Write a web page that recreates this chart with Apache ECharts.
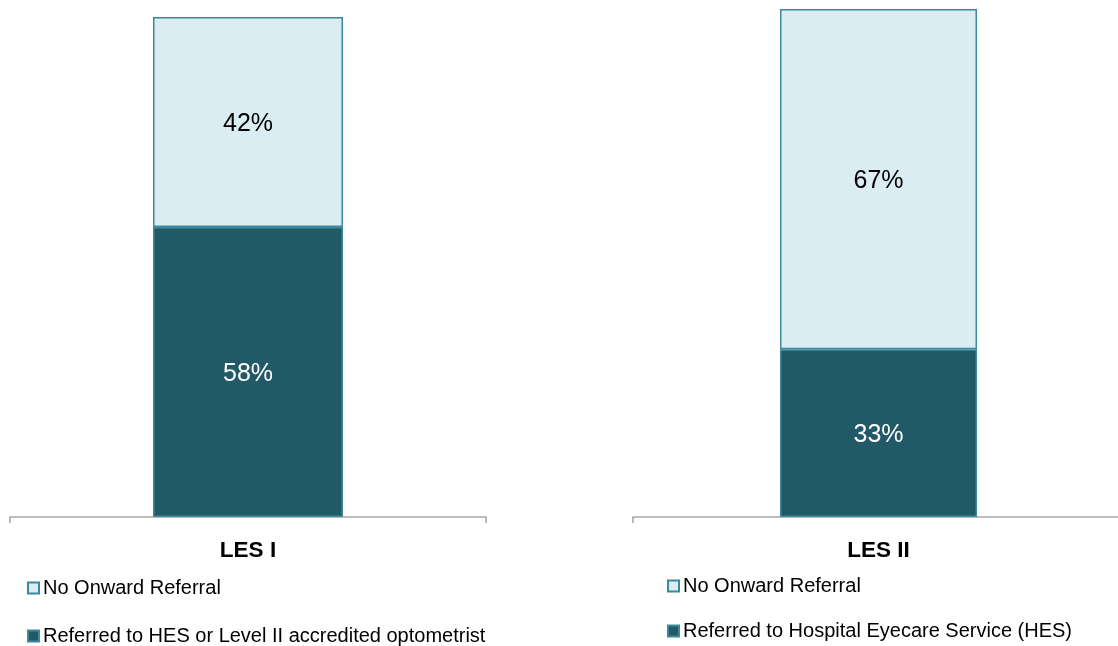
<!DOCTYPE html>
<html>
<head>
<meta charset="utf-8">
<script src="https://cdn.jsdelivr.net/npm/echarts@6/dist/echarts.min.js"></script>
<style>
html,body{margin:0;padding:0;background:#fff;}
#c{width:1118px;height:646px;}
</style>
</head>
<body>
<div id="c"></div>
<script>
// Data
const panelCategories = ['LES I', 'LES II'];
const noReferralName = 'No Onward Referral';
const referredNames = ['Referred to HES or Level II accredited optometrist', 'Referred to Hospital Eyecare Service (HES)'];
const referredValues = [58, 33];
const noReferralValues = [42, 67];

const lightFill = '#daedf3';
const darkFill = '#225967';
const borderCol = '#3e889b';
const axisCol = '#a6a6a6';
const bodyFont = 'Arial, "Liberation Sans", sans-serif';
const catFont = 'Arial, "Liberation Sans", sans-serif';

const grids = [
  {left: 10, width: 476, top: 17, height: 500, outerBoundsMode: 'none', containLabel: false},
  {left: 633, width: 491, top: 9, height: 508, outerBoundsMode: 'none', containLabel: false}
];
const barWidths = [190, 197];

const chart = echarts.init(document.getElementById('c'));
const xAxes = [], yAxes = [], series = [], legends = [];
panelCategories.forEach((cat, i) => {
  xAxes.push({
    type: 'category', gridIndex: i, data: [cat],
    axisLine: {lineStyle: {color: axisCol, width: 1.5}},
    axisTick: {show: true, length: 6, lineStyle: {color: axisCol, width: 1.5}},
    axisLabel: {color: '#000', fontFamily: catFont, fontWeight: 'bold', fontSize: 22.5, margin: 22}
  });
  yAxes.push({type: 'value', gridIndex: i, min: 0, max: 100, show: false, splitLine: {show: false}});
  series.push({
    name: referredNames[i], type: 'bar', xAxisIndex: i, yAxisIndex: i, stack: 's' + i,
    data: [referredValues[i]], barWidth: barWidths[i],
    itemStyle: {color: darkFill, borderColor: borderCol, borderWidth: 1.5},
    label: {show: true, position: 'inside', offset: [0, 2], formatter: '{c}%', color: '#fff', fontFamily: bodyFont, fontSize: 25}
  });
  series.push({
    name: noReferralName, type: 'bar', xAxisIndex: i, yAxisIndex: i, stack: 's' + i,
    data: [noReferralValues[i]], barWidth: barWidths[i],
    itemStyle: {color: lightFill, borderColor: borderCol, borderWidth: 1.5},
    label: {show: true, position: 'inside', offset: [0, 2], formatter: '{c}%', color: '#000', fontFamily: bodyFont, fontSize: 25}
  });
});

const legendPos = [
  [{left: 27, top: 578}, {left: 27, top: 626}],
  [{left: 667, top: 576}, {left: 667, top: 621}]
];
panelCategories.forEach((cat, i) => {
  [noReferralName, referredNames[i]].forEach((nm, j) => {
    legends.push(Object.assign({
      data: [nm], orient: 'horizontal', padding: 0, icon: 'rect',
      itemWidth: 11, itemHeight: 11, itemGap: 4,
      textStyle: {color: '#000', fontFamily: bodyFont, fontSize: 20, lineHeight: 20, padding: [0, 0, 0, -1]},
      selectedMode: false
    }, legendPos[i][j]));
  });
});

chart.setOption({
  animation: false,
  grid: grids,
  xAxis: xAxes,
  yAxis: yAxes,
  legend: legends,
  series: series
});
</script>
</body>
</html>
